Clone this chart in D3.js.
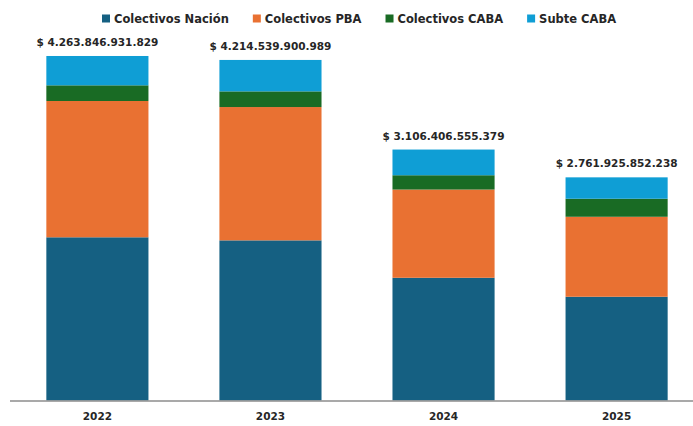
<!DOCTYPE html>
<html>
<head>
<meta charset="utf-8" />
<script src="https://cdn.jsdelivr.net/npm/d3@7"></script>
<style>
    body { margin: 0; background: #fff; }
    text { font-family: "DejaVu Sans", sans-serif; font-weight: bold; fill: #262626; }
</style>
</head>
<body>
<svg id="chart"></svg>
<script>
// years and series (miles de millones de pesos)
var years = ['2022', '2023', '2024', '2025'];
var seriesNames = ['Colectivos Nación', 'Colectivos PBA', 'Colectivos CABA', 'Subte CABA'];
var colectivosNacion = [2020, 1982, 1519, 1284];
var colectivosPBA    = [1687, 1650, 1092, 990];
var colectivosCABA   = [194, 194, 177, 223];
var subteCABA        = [363, 389, 318, 265];
var totals = [4263846931829, 4214539900989, 3106406555379, 2761925852238];
var colors = ['#156082', '#E97132', '#196B24', '#0F9ED5'];

var width = 693, height = 426;
var base = 400.5;

var rows = years.map(function(y, i) {
    return { year: y, 'Colectivos Nación': colectivosNacion[i], 'Colectivos PBA': colectivosPBA[i],
             'Colectivos CABA': colectivosCABA[i], 'Subte CABA': subteCABA[i], total: totals[i] };
});

var stack = d3.stack().keys(seriesNames)(rows);

var svg = d3.select('#chart').attr('width', width).attr('height', height);

var x = d3.scaleBand().domain(years).range([10, 704]).paddingInner(0.41).paddingOuter(0.21);
var y = d3.scaleLinear().domain([0, d3.max(totals) / 1e9]).range([base, 56]);

var color = d3.scaleOrdinal().domain(seriesNames).range(colors);

svg.append('g').selectAll('g').data(stack).enter().append('g')
    .attr('fill', function(d) { return color(d.key); })
    .selectAll('rect').data(function(d) { return d; }).enter().append('rect')
    .attr('x', function(d) { return x(d.data.year); })
    .attr('width', x.bandwidth())
    .attr('y', function(d) { return y(d[1]); })
    .attr('height', function(d) { return y(d[0]) - y(d[1]); });

// baseline
svg.append('line').attr('x1', 10).attr('x2', width).attr('y1', base + 0.5).attr('y2', base + 0.5)
    .attr('stroke', '#8c8c8c').attr('stroke-width', 1.5);

var xAxis = d3.axisBottom(x).tickSize(0).tickPadding(0);
var gx = svg.append('g').attr('transform', 'translate(0,' + base + ')').call(xAxis);
gx.select('.domain').remove();
gx.selectAll('text').attr('y', 19).attr('dy', 0).style('font-size', '10.5px')
    .style('font-family', '"DejaVu Sans", sans-serif').style('font-weight', 'bold').attr('fill', '#262626');

// total labels
var loc = d3.formatLocale({ decimal: ',', thousands: '.', grouping: [3], currency: ['$ ', ''] });
var fmt = loc.format(',d');
var topSeries = stack[stack.length - 1];
svg.append('g').selectAll('text').data(rows).enter().append('text')
    .attr('x', function(d) { return x(d.year) + x.bandwidth() / 2; })
    .attr('y', function(d, i) { return y(topSeries[i][1]) - 10; })
    .attr('text-anchor', 'middle')
    .style('font-size', '10.5px')
    .text(function(d) { return '$ ' + fmt(d.total); });

// legend
var legend = svg.append('g');
var lx = 102;
seriesNames.forEach(function(name, i) {
    legend.append('rect').attr('x', lx).attr('y', 14.5).attr('width', 8).attr('height', 8).attr('fill', colors[i]);
    var t = legend.append('text').attr('x', lx + 12).attr('y', 22.5).style('font-size', '11.5px').text(name);
    lx += 12 + t.node().getComputedTextLength() + 24;
});
</script>
</body>
</html>
